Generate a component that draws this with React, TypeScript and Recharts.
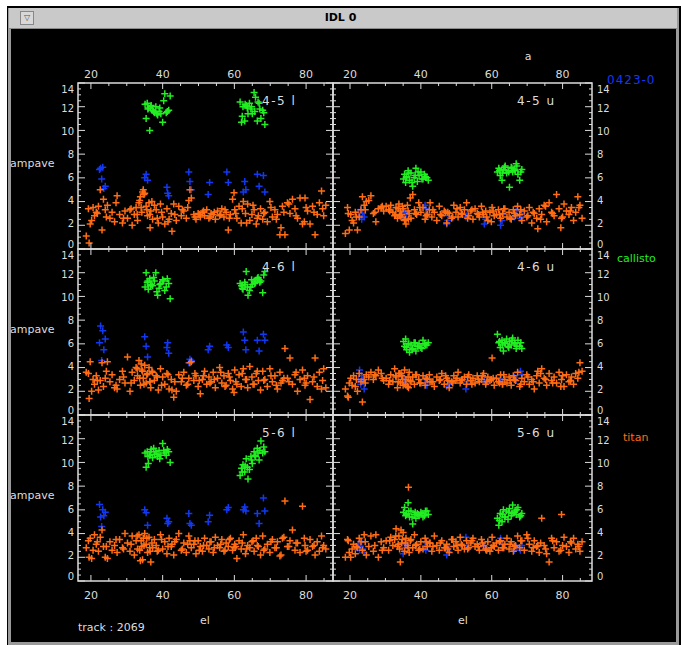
import React from "react";
import { ScatterChart, Scatter, XAxis, YAxis, ReferenceArea } from "recharts";

// elevations (el) of each scan, shared by the six baselines
const callistoEl = [
  35.1, 35.4, 35.7, 36.0, 36.4, 36.8, 37.2, 37.7, 38.1, 38.6, 39.0, 39.5, 40.0, 40.6, 41.3, 42.1,
  61.6, 62.0, 62.4, 62.9, 63.3, 63.8, 64.2, 64.6, 65.0, 65.5, 65.9, 66.4, 66.9, 67.4, 67.9, 68.5,
  35.9, 36.6, 37.5, 38.4, 39.2, 40.3, 41.0, 41.7,
  62.2, 63.0, 63.6, 64.8, 65.7, 66.6, 67.1, 68.2,
];
const quasarEl = [
  22.4, 22.7, 23.0, 23.3, 23.6, 24.0, 35.0, 35.4, 35.8, 41.2, 41.4, 41.7, 47.3,
  47.6, 48.0, 52.7, 53.1, 57.9, 58.3, 62.5, 62.9, 63.2, 66.4, 66.9, 68.1, 68.5,
];
const titanEl = [
  18.7, 19.3, 19.8, 20.2, 20.6, 21.0, 21.5, 22.1, 22.6, 23.1, 23.5, 24.0, 24.6, 25.3, 25.9, 26.6, 27.3, 28.0, 28.8, 29.5,
  30.2, 30.9, 31.5, 32.1, 32.6, 33.0, 33.4, 33.8, 34.2, 34.6, 35.0, 35.4, 35.8, 36.2, 36.7, 37.2, 37.7, 38.2, 38.8, 39.4,
  40.0, 40.6, 41.2, 41.8, 42.4, 43.1, 43.8, 44.5, 45.2, 45.9, 46.6, 47.3, 48.0, 48.7, 49.3, 49.9, 50.5, 51.1, 51.7, 52.3,
  52.9, 53.5, 54.1, 54.7, 55.3, 55.9, 56.5, 57.1, 57.7, 58.3, 58.9, 59.5, 60.1, 60.7, 61.3, 61.9, 62.5, 63.1, 63.7, 64.3,
  64.9, 65.5, 66.1, 66.7, 67.3, 67.9, 68.5, 69.2, 69.9, 70.6, 71.3, 72.0, 72.7, 73.4, 74.1, 74.8, 75.5, 76.2, 76.9, 77.6,
  78.3, 79.0, 79.7, 80.4, 81.1, 81.8, 82.5, 83.1, 83.7, 84.3, 84.9, 85.5, 19.5, 34.4, 36.5, 47.6, 59.9, 73.0, 79.5, 42.6,
  21.8, 24.3, 27.0, 29.1, 31.2, 32.9, 33.6, 34.0, 34.8, 35.6, 36.4, 37.0, 38.5, 39.7, 41.5, 43.4, 45.5, 47.0, 49.0, 50.2,
  51.4, 53.2, 54.4, 56.2, 57.4, 58.6, 60.4, 62.2, 63.4, 65.2, 66.4, 68.2, 70.2, 71.7, 73.8, 75.2, 77.2, 80.0, 82.2, 84.6,
];

// ampave per baseline
const callisto45l = [
  12.2, 11.0, 12.3, 11.9, 10.0, 12.1, 11.7, 11.5, 12.0, 11.3, 11.6, 11.4, 10.7, 13.1, 11.6, 12.9,
  12.4, 10.7, 12.0, 10.8, 12.1, 11.4, 12.3, 11.8, 11.4, 13.2, 12.8, 10.8, 12.3, 11.0, 11.7, 10.5,
  11.8, 12.0, 11.6, 11.4, 11.9, 12.5, 11.5, 11.7,
  11.2, 12.2, 11.9, 12.0, 11.6, 12.4, 11.8, 11.5,
];
const callisto45u = [
  5.9, 6.3, 5.6, 6.1, 6.6, 5.8, 6.4, 5.3, 6.0, 6.8, 5.7, 6.2, 6.5, 5.9, 6.1, 5.8,
  6.5, 6.8, 6.2, 5.8, 6.7, 7.0, 6.4, 6.6, 5.2, 6.9, 6.5, 6.7, 7.2, 6.3, 5.8, 6.7,
  6.0, 6.4, 5.6, 6.2, 6.5, 5.9, 6.3, 6.0,
  6.6, 6.4, 6.9, 6.5, 6.8, 6.6, 7.0, 6.5,
];
const callisto46l = [
  10.8, 12.0, 11.2, 10.6, 11.5, 11.0, 10.9, 11.3, 12.0, 10.1, 10.7, 11.1, 11.4, 10.5, 11.5, 9.8,
  11.1, 10.9, 10.6, 11.2, 12.1, 10.1, 10.5, 10.8, 11.0, 11.3, 11.2, 11.5, 11.4, 11.3, 10.3, 12.1,
  11.3, 10.9, 11.6, 10.4, 11.0, 11.3, 10.8, 11.1,
  10.7, 11.0, 10.8, 11.4, 11.1, 11.6, 11.2, 11.8,
];
const callisto46u = [
  6.2, 5.8, 6.4, 5.5, 6.0, 5.3, 5.9, 5.6, 6.1, 5.4, 5.8, 6.0, 5.7, 6.3, 5.9, 6.1,
  6.8, 6.1, 5.7, 6.3, 5.4, 6.0, 6.4, 5.8, 6.2, 5.9, 6.5, 6.1, 5.6, 6.3, 5.8, 5.6,
  5.7, 6.0, 5.5, 6.1, 5.8, 5.6, 6.0, 5.9,
  6.2, 5.9, 6.1, 5.7, 6.3, 6.0, 5.8, 6.1,
];
const callisto56l = [
  10.8, 9.6, 10.9, 9.9, 10.6, 11.1, 10.4, 10.7, 10.9, 10.5, 11.0, 10.6, 11.6, 10.8, 11.1, 10.0,
  8.9, 9.5, 9.8, 9.2, 10.3, 8.6, 9.4, 10.5, 9.9, 10.9, 10.5, 11.2, 10.2, 11.8, 10.8, 10.9,
  10.5, 10.9, 11.2, 10.7, 10.3, 11.0, 10.6, 10.9,
  9.2, 9.7, 9.6, 10.2, 10.6, 10.8, 11.0, 11.3,
];
const callisto56u = [
  5.8, 6.2, 5.5, 5.7, 6.6, 5.4, 5.9, 4.8, 5.6, 5.3, 5.7, 5.5, 5.8, 5.4, 5.9, 5.6,
  5.3, 4.7, 5.7, 5.0, 6.0, 5.4, 5.9, 5.2, 6.1, 5.5, 6.4, 5.8, 5.6, 6.2, 5.4, 5.7,
  5.6, 5.9, 5.4, 5.8, 5.6, 5.7, 5.5, 5.9,
  5.1, 5.6, 5.4, 5.8, 5.7, 5.9, 6.0, 5.5,
];

const quasar45l = [
  6.7, 6.8, 5.9, 6.9, 5.1, 5.3, 6.0, 6.3, 5.8, 5.2, 4.7, 4.5, 6.5,
  5.7, 5.0, 4.6, 5.6, 6.5, 5.6, 4.8, 5.7, 5.0, 6.3, 5.3, 6.2, 4.8,
];
const quasar45u = [
  3.1, 2.8, 3.3, 2.5, 3.0, 2.7, 2.7, 3.1, 2.9, 3.7, 3.4, 3.0, 2.1,
  2.4, 2.8, 2.7, 3.0, 2.1, 2.5, 2.0, 2.4, 2.9, 2.7, 3.2, 2.6, 2.9,
];
const quasar46l = [
  6.1, 7.5, 4.6, 7.1, 5.5, 6.4, 6.6, 5.8, 4.9, 5.7, 6.1, 5.2, 4.4,
  4.7, 4.6, 5.5, 5.8, 5.9, 5.7, 7.0, 6.3, 5.5, 6.3, 5.4, 6.8, 6.3,
];
const quasar46u = [
  3.0, 3.8, 2.6, 3.3, 2.9, 2.2, 3.2, 2.8, 2.6, 3.0, 2.7, 2.5, 2.4,
  2.6, 2.9, 2.2, 2.8, 3.0, 2.7, 3.0, 2.6, 2.8, 3.2, 2.9, 3.7, 3.4,
];
const quasar56l = [
  6.45, 5.4, 4.6, 6.0, 5.5, 5.8, 6.0, 5.75, 4.7, 5.3, 4.85, 5.0, 5.7,
  4.85, 4.7, 5.0, 5.55, 6.0, 6.2, 6.0, 6.25, 5.9, 5.7, 4.85, 7.0, 5.9,
];
const quasar56u = [
  3.15, 2.6, 2.9, 3.3, 2.7, 2.4, 2.3, 2.8, 3.1, 2.9, 2.6, 3.2, 2.2,
  2.5, 2.9, 3.7, 3.0, 2.9, 2.6, 3.6, 2.8, 3.1, 2.6, 2.9, 2.6, 3.0,
];

const titan45l = [
  1.1, 3.4, 2.1, 2.4, 3.5, 2.8, 3.1, 3.6, 5.0, 1.6, 4.2, 3.3, 3.7, 2.6, 3.1, 2.3, 4.5, 2.9, 2.2, 3.2,
  2.6, 3.3, 2.0, 2.9, 3.5, 2.4, 3.9, 4.4, 3.1, 5.0, 4.7, 3.6, 2.8, 3.9, 3.2, 2.5, 3.7, 3.3, 2.2, 3.8,
  2.7, 2.1, 3.4, 2.5, 3.0, 3.8, 2.4, 3.6, 2.8, 3.2, 2.6, 4.1, 4.3, 2.9, 2.5, 3.0, 2.7, 3.1, 2.8, 3.3,
  2.6, 3.0, 2.9, 2.5, 3.2, 2.8, 3.4, 2.7, 3.1, 1.6, 2.9, 4.2, 3.3, 2.6, 3.6, 2.2, 4.0, 3.0, 3.8, 2.4,
  2.9, 3.3, 2.1, 2.8, 3.4, 2.5, 3.1, 2.3, 4.0, 2.7, 3.3, 2.9, 1.2, 3.6, 1.2, 3.9, 3.0, 4.2, 3.4, 2.6,
  4.3, 2.1, 4.3, 3.2, 2.1, 3.6, 1.2, 2.9, 3.9, 4.9, 2.8, 3.7, 0.5, 4.8, 1.8, 5.0, 4.75, 1.8, 2.3, 1.5,
  3.0, 2.7, 3.9, 2.6, 3.4, 2.9, 4.1, 3.5, 4.6, 3.3, 2.9, 4.0, 2.6, 3.1, 2.3, 2.9, 3.3, 3.5, 2.7, 2.9,
  3.2, 2.7, 3.1, 2.9, 3.3, 2.6, 3.0, 3.4, 2.2, 3.7, 2.6, 3.0, 3.5, 2.5, 3.1, 3.8, 2.8, 3.5, 3.1, 3.4,
];
const titan45u = [
  1.3, 3.5, 1.6, 2.9, 2.4, 2.2, 3.1, 1.6, 2.7, 3.3, 4.4, 3.7, 4.0, 4.1, 4.5, 3.0, 2.3, 3.4, 3.5, 3.2,
  3.6, 3.3, 3.7, 3.1, 2.8, 3.5, 2.6, 3.8, 3.2, 2.9, 3.4, 2.4, 2.1, 3.7, 3.0, 2.6, 4.6, 3.3, 2.9, 3.9,
  3.1, 3.5, 2.5, 2.9, 3.3, 2.7, 3.1, 2.4, 3.6, 2.8, 3.2, 2.2, 3.0, 2.6, 3.7, 3.1, 2.7, 3.5, 2.9, 3.3,
  3.9, 2.8, 3.2, 2.5, 3.4, 3.0, 2.7, 3.6, 2.9, 3.2, 2.4, 3.1, 3.5, 2.8, 2.9, 3.3, 2.6, 3.0, 3.4, 2.7,
  3.1, 2.5, 3.3, 2.8, 3.6, 2.9, 2.4, 3.2, 2.7, 3.5, 2.2, 3.0, 2.6, 3.4, 2.9, 3.7, 2.3, 3.9, 3.1, 2.8,
  4.6, 3.4, 2.6, 3.8, 3.2, 2.9, 3.5, 2.4, 3.1, 4.4, 3.7, 2.6, 3.0, 2.7, 2.5, 3.1, 2.3, 1.7, 1.8, 3.9,
  2.7, 3.3, 3.1, 3.6, 3.2, 2.9, 3.4, 2.8, 3.6, 2.5, 3.2, 4.3, 3.0, 3.5, 2.8, 3.3, 2.9, 3.1, 2.7, 3.4,
  3.0, 2.6, 3.3, 2.9, 3.1, 2.7, 3.2, 2.9, 3.4, 2.6, 3.0, 3.3, 2.8, 3.1, 2.5, 3.6, 3.0, 2.7, 3.2, 3.5,
];
const titan46l = [
  3.6, 3.5, 4.5, 2.0, 3.0, 2.6, 3.3, 2.1, 2.9, 4.4, 2.4, 3.1, 4.5, 2.8, 3.4, 2.3, 2.2, 3.0, 3.7, 2.7,
  4.9, 2.0, 3.6, 2.9, 4.0, 3.3, 4.6, 2.5, 3.8, 3.1, 4.2, 2.7, 3.5, 4.0, 2.3, 3.6, 2.9, 3.3, 2.1, 3.9,
  3.2, 2.6, 3.5, 2.2, 3.0, 1.5, 2.0, 3.4, 2.8, 3.6, 2.5, 3.1, 4.5, 2.9, 3.3, 2.4, 1.8, 3.0, 3.7, 2.6,
  3.2, 2.8, 3.6, 2.3, 3.1, 4.0, 2.7, 3.3, 2.5, 3.5, 2.9, 2.2, 3.8, 2.6, 3.4, 2.4, 3.9, 3.0, 2.3, 4.1,
  3.2, 2.6, 3.5, 2.9, 2.1, 3.7, 3.0, 2.4, 3.9, 2.8, 3.3, 2.2, 3.6, 2.9, 5.6, 3.1, 4.8, 2.6, 3.4, 2.0,
  3.0, 3.8, 2.5, 3.3, 1.3, 2.8, 4.8, 2.4, 3.6, 2.2, 3.9, 2.3, 1.4, 3.7, 2.8, 4.4, 1.9, 2.7, 3.1, 2.1,
  2.9, 3.7, 2.5, 3.2, 2.7, 3.9, 3.1, 4.3, 2.6, 3.4, 2.8, 3.7, 3.2, 2.5, 3.4, 2.8, 3.1, 2.6, 3.5, 2.9,
  3.3, 2.7, 3.0, 3.6, 2.4, 3.2, 2.8, 3.5, 3.0, 2.6, 3.7, 2.9, 3.3, 2.5, 3.1, 2.8, 3.6, 2.7, 3.2, 2.9,
];
const titan46u = [
  2.2, 1.6, 2.7, 3.1, 2.5, 3.3, 2.4, 2.0, 3.5, 2.8, 1.1, 3.0, 3.4, 3.2, 3.6, 3.0, 3.3, 3.8, 3.5, 2.9,
  3.1, 2.6, 3.4, 2.8, 3.9, 3.2, 2.3, 3.5, 2.7, 3.3, 2.5, 3.8, 3.0, 2.4, 3.6, 2.8, 3.2, 2.6, 3.4, 3.0,
  2.7, 3.3, 2.5, 3.0, 3.4, 2.8, 2.4, 3.2, 2.9, 3.5, 2.6, 3.1, 2.3, 2.8, 3.3, 2.9, 3.6, 2.7, 3.0, 3.2,
  2.6, 3.4, 2.9, 3.1, 2.7, 3.3, 2.8, 3.0, 3.5, 2.6, 3.2, 2.9, 4.8, 2.5, 3.1, 2.8, 3.4, 2.6, 3.0, 2.7,
  3.2, 2.5, 3.3, 2.9, 3.6, 2.4, 3.1, 2.8, 3.4, 2.6, 3.0, 2.2, 3.3, 2.7, 3.9, 3.1, 2.5, 3.5, 2.9, 3.2,
  2.7, 3.6, 3.0, 2.4, 3.4, 2.8, 3.2, 2.6, 3.5, 3.1, 4.4, 3.7, 1.5, 3.5, 2.3, 2.9, 3.0, 3.7, 2.4, 2.8,
  3.0, 2.7, 3.4, 3.1, 2.9, 3.3, 2.8, 3.5, 3.0, 2.6, 3.2, 2.9, 3.4, 2.7, 3.1, 2.8, 3.0, 3.3, 2.7, 3.1,
  2.9, 3.2, 2.6, 3.0, 3.3, 2.8, 3.1, 2.7, 3.4, 2.9, 3.0, 2.6, 3.2, 2.8, 3.5, 3.0, 2.7, 3.3, 2.9, 3.6,
];
const titan56l = [
  2.8, 3.4, 3.6, 1.9, 2.6, 3.9, 3.1, 2.5, 3.7, 4.3, 2.9, 2.0, 1.9, 3.3, 2.6, 3.0, 2.4, 3.5, 2.8, 4.0,
  3.2, 2.5, 3.8, 2.2, 3.4, 2.7, 3.9, 1.7, 2.9, 3.6, 4.0, 3.1, 2.4, 3.7, 1.6, 2.8, 3.5, 3.0, 2.6, 3.9,
  2.7, 3.3, 2.3, 3.6, 2.9, 2.2, 3.5, 4.0, 2.6, 3.2, 2.4, 3.8, 2.8, 3.1, 2.3, 3.4, 2.9, 2.5, 3.6, 3.0,
  2.7, 3.3, 2.4, 3.7, 3.0, 2.8, 3.5, 2.5, 3.2, 2.9, 3.6, 2.6, 3.1, 1.9, 3.4, 2.7, 3.9, 2.3, 3.0, 2.8,
  3.3, 2.5, 3.6, 2.9, 2.2, 3.8, 2.7, 3.1, 2.4, 3.5, 2.8, 3.3, 2.1, 3.6, 6.75, 2.9, 3.4, 4.3, 2.6, 3.2,
  2.4, 6.3, 3.0, 2.6, 3.5, 2.9, 2.2, 3.3, 2.5, 3.8, 3.0, 2.7, 2.0, 1.8, 2.5, 3.4, 2.8, 2.2, 3.6, 3.1,
  3.3, 2.9, 3.5, 2.7, 3.1, 3.8, 2.6, 3.4, 3.0, 3.6, 2.8, 3.2, 2.5, 3.5, 2.9, 3.3, 2.7, 3.1, 3.4, 2.6,
  3.0, 3.3, 2.8, 3.1, 2.6, 3.5, 2.9, 3.2, 2.7, 3.4, 3.0, 2.6, 3.3, 2.8, 3.7, 2.9, 3.2, 2.5, 3.0, 2.8,
];
const titan56u = [
  2.0, 3.5, 2.4, 2.0, 2.7, 3.1, 2.3, 2.8, 3.6, 3.3, 2.6, 3.9, 2.2, 2.9, 3.8, 2.5, 3.9, 2.0, 3.3, 2.8,
  3.4, 2.6, 3.7, 3.0, 3.5, 4.4, 2.9, 3.8, 1.6, 3.2, 4.1, 2.5, 3.6, 3.0, 2.4, 3.5, 2.8, 3.9, 3.1, 2.6,
  3.3, 2.7, 3.6, 2.9, 3.2, 2.5, 3.8, 3.0, 2.6, 3.4, 2.8, 3.1, 2.4, 3.5, 2.9, 3.3, 2.6, 3.7, 3.0, 2.7,
  3.4, 2.8, 3.2, 3.6, 2.9, 3.1, 2.6, 3.5, 3.0, 2.7, 3.3, 2.5, 3.7, 2.9, 3.2, 2.6, 3.4, 2.8, 3.1, 3.6,
  2.7, 3.3, 2.5, 3.0, 3.8, 2.8, 3.4, 2.6, 3.9, 3.1, 2.5, 3.4, 2.9, 2.4, 5.3, 3.0, 2.3, 1.6, 3.6, 2.8,
  3.3, 2.5, 5.6, 3.7, 2.9, 2.4, 3.2, 3.6, 2.7, 3.1, 2.5, 3.3, 3.4, 4.3, 7.9, 2.7, 2.8, 3.0, 2.6, 3.2,
  2.9, 3.3, 3.0, 2.6, 3.4, 3.8, 3.1, 2.7, 3.5, 3.2, 2.8, 3.4, 3.0, 2.7, 3.3, 2.9, 3.2, 2.8, 3.5, 3.0,
  3.1, 2.7, 3.4, 2.9, 3.2, 2.6, 3.0, 3.3, 2.8, 3.1, 2.9, 3.4, 3.6, 2.8, 3.2, 2.7, 3.4, 3.0, 3.3, 2.9,
];

const xTicks = [20, 25, 30, 35, 40, 45, 50, 55, 60, 65, 70, 75, 80, 85];
const xLabels = [20, 40, 60, 80];
const yTicks = [
  0, 0.5, 1, 1.5, 2, 2.5, 3, 3.5, 4, 4.5, 5, 5.5, 6, 6.5, 7,
  7.5, 8, 8.5, 9, 9.5, 10, 10.5, 11, 11.5, 12, 12.5, 13, 13.5, 14,
];
const yLabels = [0, 2, 4, 6, 8, 10, 12, 14];

const panels = [
  { name: "4-5 l", row: 0, col: 0, cal: callisto45l, qso: quasar45l, tit: titan45l },
  { name: "4-5 u", row: 0, col: 1, cal: callisto45u, qso: quasar45u, tit: titan45u },
  { name: "4-6 l", row: 1, col: 0, cal: callisto46l, qso: quasar46l, tit: titan46l },
  { name: "4-6 u", row: 1, col: 1, cal: callisto46u, qso: quasar46u, tit: titan46u },
  { name: "5-6 l", row: 2, col: 0, cal: callisto56l, qso: quasar56l, tit: titan56l },
  { name: "5-6 u", row: 2, col: 1, cal: callisto56u, qso: quasar56u, tit: titan56u },
];

const BLUE = "#1238f2";
const GREEN = "#22ee22";
const ORANGE = "#ff6c14";
const AXIS = "#dcdcdc";
const FONT = "'DejaVu Sans', sans-serif";

const COL_X = [78, 333];
const COL_W = [255, 259];
const ROW_Y = [83, 249, 415];
const ROW_H = 166;
const DOMAINS: [number, number][] = [
  [16.4, 87.5],
  [15.2, 88.3],
];
// room round each plot box for the tick labels
const PL = 34;
const PR = 34;
const PT = 20;
const PB = 24;
const AX = 2; // size given to the axes themselves

const zip = (xs: number[], ys: number[]) => xs.map((x, i) => ({ x, y: ys[i] }));

const plus = (color: string) => (p: any) => {
  const { cx, cy } = p;
  if (cx == null || cy == null) return <g />;
  return (
    <path
      d={`M${cx - 3.5},${cy}H${cx + 3.5}M${cx},${cy - 3.5}V${cy + 3.5}`}
      stroke={color}
      strokeWidth={1.5}
      fill="none"
    />
  );
};

// baseline offset of a y label from its tick: the 0 sits above the tick and
// the 14 below it, so stacked panels do not run their labels together
const labelDy = (v: number) => (v === 0 ? -1.5 : v === 14 ? 10 : 3.6 + (v - 7) * 0.4);

function Panel({ p }: { p: (typeof panels)[number] }) {
  const w = COL_W[p.col];
  const dom = DOMAINS[p.col];
  const top = PT;
  const bottom = PT + ROW_H;
  const left = PL;
  const right = PL + w;

  const xTick = (t: any) => {
    const v = t.payload.value;
    const major = xLabels.includes(v);
    const len = major ? 6 : 3;
    return (
      <g>
        <line x1={t.x} x2={t.x} y1={bottom} y2={bottom - len} stroke={AXIS} />
        <line x1={t.x} x2={t.x} y1={top} y2={top + len} stroke={AXIS} />
        {major && p.row === 0 && (
          <text x={t.x} y={top - 5} textAnchor="middle" fill={AXIS} fontSize={11} fontFamily={FONT}>
            {v}
          </text>
        )}
        {major && p.row === 2 && (
          <text x={t.x} y={bottom + 18} textAnchor="middle" fill={AXIS} fontSize={11} fontFamily={FONT}>
            {v}
          </text>
        )}
      </g>
    );
  };

  const yTick = (t: any) => {
    const v = t.payload.value;
    const major = yLabels.includes(v);
    const len = major ? 7 : 3;
    return (
      <g>
        <line x1={left} x2={left + len} y1={t.y} y2={t.y} stroke={AXIS} />
        <line x1={right} x2={right - len} y1={t.y} y2={t.y} stroke={AXIS} />
        {major && (
          <text
            x={p.col === 0 ? left - 4 : right + 5}
            y={t.y + labelDy(v)}
            textAnchor={p.col === 0 ? "end" : "start"}
            fill={AXIS}
            fontSize={10}
            fontFamily={FONT}
          >
            {v}
          </text>
        )}
      </g>
    );
  };

  return (
    <div style={{ position: "absolute", left: COL_X[p.col] - PL, top: ROW_Y[p.row] - PT }}>
      <ScatterChart
        width={w + PL + PR}
        height={ROW_H + PT + PB}
        margin={{ top: PT, right: PR, bottom: PB - AX, left: PL - AX }}
      >
        <XAxis
          type="number"
          dataKey="x"
          domain={dom}
          ticks={xTicks}
          interval={0}
          height={AX}
          axisLine={false}
          tickLine={false}
          tick={xTick}
          allowDataOverflow
        />
        <YAxis
          type="number"
          dataKey="y"
          domain={[0, 14]}
          ticks={yTicks}
          interval={0}
          width={AX}
          axisLine={false}
          tickLine={false}
          tick={yTick}
          allowDataOverflow
        />
        <ReferenceArea x1={dom[0]} x2={dom[1]} y1={0} y2={14} fill="none" stroke={AXIS} strokeWidth={1.5} />
        <Scatter data={zip(quasarEl, p.qso)} shape={plus(BLUE)} isAnimationActive={false} />
        <Scatter data={zip(callistoEl, p.cal)} shape={plus(GREEN)} isAnimationActive={false} />
        <Scatter data={zip(titanEl, p.tit)} shape={plus(ORANGE)} isAnimationActive={false} />
      </ScatterChart>
    </div>
  );
}

export default function App() {
  return (
    <div style={{ position: "absolute", left: 0, top: 0, width: 681, height: 645, background: "#ffffff", overflow: "hidden" }}>
      {/* window frame */}
      <div style={{ position: "absolute", left: 7, top: 6, width: 671, height: 639, background: "#9a9a9a", borderTop: "2px solid #000", borderLeft: "1px solid #000", borderRight: "2px solid #000" }} />
      <div style={{ position: "absolute", left: 9, top: 8, width: 668, height: 20, background: "#c9c9c9", borderBottom: "1px solid #8a8a8a" }} />
      <div style={{ position: "absolute", left: 20, top: 11, width: 12, height: 12, background: "#d8d8d8", border: "1px solid #888", fontSize: 8, lineHeight: "12px", textAlign: "center", color: "#555", fontFamily: FONT }}>
        ▽
      </div>
      <div style={{ position: "absolute", left: 0, width: 681, top: 11, textAlign: "center", fontFamily: FONT, fontSize: 11, fontWeight: "bold", color: "#000" }}>
        IDL 0
      </div>
      <div style={{ position: "absolute", left: 11, top: 29, width: 665, height: 613, background: "#000" }} />

      {panels.map((p) => (
        <Panel key={p.name} p={p} />
      ))}

      <svg width={681} height={645} style={{ position: "absolute", left: 0, top: 0, pointerEvents: "none" }} fontFamily={FONT}>
        {panels.map((p) => (
          <text key={p.name} x={COL_X[p.col] + 184} y={ROW_Y[p.row] + 22} fill={AXIS} fontSize={12} letterSpacing={1.5}>
            {p.name}
          </text>
        ))}
        {ROW_Y.map((y) => (
          <text key={y} x={10} y={y + 84} fill={AXIS} fontSize={11}>
            ampave
          </text>
        ))}
        <text x={528} y={60} textAnchor="middle" fill={AXIS} fontSize={11}>a</text>
        <text x={205} y={624} textAnchor="middle" fill={AXIS} fontSize={11}>el</text>
        <text x={463} y={624} textAnchor="middle" fill={AXIS} fontSize={11}>el</text>
        <text x={78} y={631} fill={AXIS} fontSize={11}>track : 2069</text>
        <text x={607} y={84} fill={BLUE} fontSize={12} letterSpacing={1}>0423-0</text>
        <text x={617} y={262} fill={GREEN} fontSize={11}>callisto</text>
        <text x={623} y={441} fill={ORANGE} fontSize={11}>titan</text>
      </svg>
    </div>
  );
}
